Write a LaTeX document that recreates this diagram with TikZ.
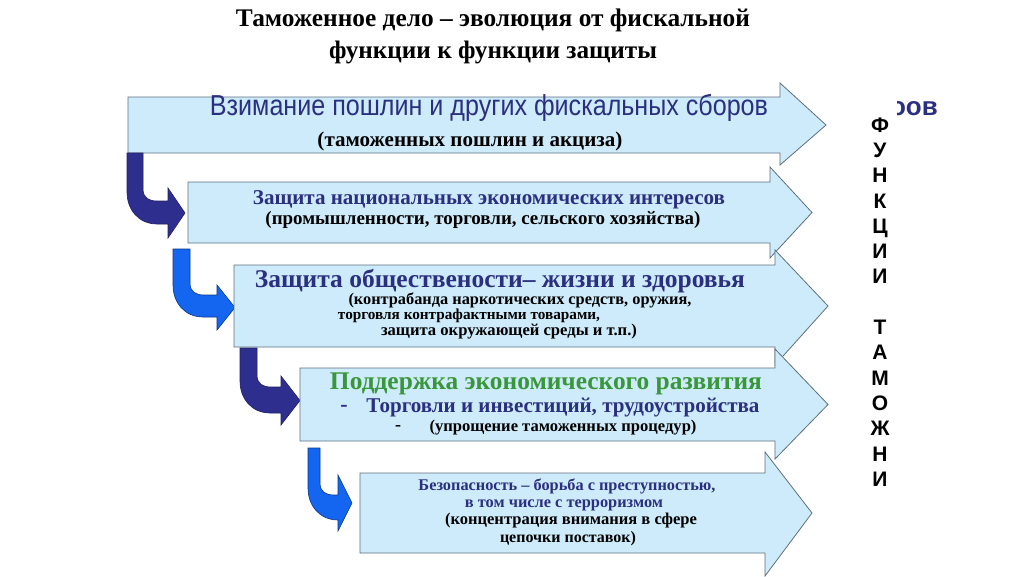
\documentclass[tikz,border=0pt]{standalone}
\usepackage{fontspec}
\usepackage{graphicx}
\setmainfont{Liberation Serif}
\newfontfamily\arialf{Liberation Sans}
\definecolor{boxfill}{HTML}{CDEBFA}
\definecolor{boxline}{HTML}{5F6F7F}
\definecolor{navytext}{HTML}{2B2F7F}
\definecolor{navyarrow}{HTML}{2E2E8E}
\definecolor{bluearrow}{HTML}{1466F0}
\definecolor{greentext}{HTML}{3A963A}
\newcommand\fw[2]{\resizebox{#1pt}{!}{#2}}
% body arrow: x0, ytop, ybot, xhead, headtop, headbot, tipx
\newcommand\bodyarrow[7]{%
  \path[bigarrow] (#1,#2) -- (#4,#2) -- (#4,#5) -- (#7,{(#2+#3)/2}) -- (#4,#6) -- (#4,#3) -- (#1,#3) -- cycle;}
% bent arrow: style, L, R, T, S1, S2, Hb, Ht, Tx  (head bottom in \bentHbm)
\newcommand\bentarrow[9]{%
  \path[#1] (#2,#4) -- (#3,#4) -- (#3,#5-12) .. controls (#3,#5-3) and (#3+6,#5) .. (#3+14,#5)
    -- (#7,#5) -- (#7,#8) -- (#9,{(#8+\bentHbm)/2}) -- (#7,\bentHbm) -- (#7,#6)
    -- (#2+30,#6) .. controls (#2+12,#6) and (#2,#6-14) .. (#2,#6-32) -- cycle;}
\tikzset{
  bigarrow/.style={fill=boxfill, draw=boxline, line width=0.8pt},
  bentnavy/.style={fill=navyarrow, draw=navyarrow!70!black, line width=0.6pt},
  bentblue/.style={fill=bluearrow, draw=bluearrow!55!black, line width=0.6pt},
  txt/.style={inner sep=0pt, anchor=center},
}
\begin{document}
\begin{tikzpicture}[x=1pt,y=-1pt]
\useasboundingbox (0,0) rectangle (1024,576);
\fill[white] (0,0) rectangle (1024,576);

% title
\node[txt] (title1) at (493,20) {\fw{514}{\bfseries Таможенное дело – эволюция от фискальной}};
\node[txt] (title2) at (493,52) {\fw{328}{\bfseries функции к функции защиты}};

% arrow 1
\bodyarrow{128}{97}{153}{780}{83}{165}{826}
\node[txt] (a1a) at (489,108) {\fw{558}{\scalebox{1}[1.15]{\arialf\color{navytext}Взимание пошлин и других фискальных сборов}}};
\node[txt] (a1b) at (470,141) {\fw{305}{\bfseries (таможенных пошлин и акциза)}};

% bent arrow 1
\def\bentHbm{238}
\bentarrow{bentnavy}{127}{143}{153}{201}{224}{168}{188}{185}

% arrow 2
\bodyarrow{188}{182}{243}{770}{167}{258}{812}
\node[txt] (a2a) at (489,200) {\fw{472}{\bfseries\color{navytext}Защита национальных экономических интересов}};
\node[txt] (a2b) at (483,220) {\fw{435}{\bfseries (промышленности, торговли, сельского хозяйства)}};

% bent arrow 2
\def\bentHbm{330}
\bentarrow{bentblue}{173}{190}{249}{295}{317}{217}{285}{235}

% arrow 3
\bodyarrow{234}{265}{347}{775}{250}{365}{828}
\node[txt] (a3a) at (500,281) {\fw{490}{\bfseries\color{navytext}Защита обществености– жизни и здоровья}};
\node[txt] (a3b) at (520,300) {\fw{343}{\bfseries (контрабанда наркотических средств, оружия,}};
\node[txt] (a3c) at (469,316) {\fw{262}{\bfseries торговля контрафактными товарами,}};
\node[txt] (a3d) at (509,332) {\fw{256}{\bfseries защита окружающей среды и т.п.)}};

% bent arrow 3
\def\bentHbm{425}
\bentarrow{bentnavy}{240}{257}{348}{387}{413}{281}{376}{300}

% arrow 4
\bodyarrow{300}{368}{441}{775}{349}{459}{828}
\node[txt] (a4a) at (546,384) {\fw{432}{\bfseries\color{greentext}Поддержка экономического развития}};
\node[txt] (a4d1) at (344,408) {\bfseries\fontsize{22}{22}\selectfont\color{navytext}-};
\node[txt] (a4b) at (563,408) {\fw{393}{\bfseries\color{navytext}Торговли и инвестиций, трудоустройства}};
\node[txt] (a4d2) at (398,428) {\fw{6}{\bfseries -}};
\node[txt] (a4c) at (563,428) {\fw{267}{\bfseries (упрощение таможенных процедур)}};

% bent arrow 4
\def\bentHbm{531}
\bentarrow{bentblue}{308}{320}{448}{495}{520}{338}{475}{352}

% arrow 5
\bodyarrow{360}{473}{553}{765}{452}{576}{812}
\node[txt] (a5a) at (567,486) {\fw{297}{\bfseries\color{navytext}Безопасность – борьба с преступностью,}};
\node[txt] (a5b) at (564,505) {\fw{198}{\bfseries\color{navytext}в том числе с терроризмом}};
\node[txt] (a5c) at (571,521) {\fw{252}{\bfseries (концентрация внимания в сфере}};
\node[txt] (a5d) at (568,539) {\fw{136}{\bfseries цепочки поставок)}};

% clipped fragment
\begin{scope}
\clip (897,90) rectangle (960,135);
\node[txt, anchor=east] (frag) at (938,109) {\arialf\bfseries\fontsize{26}{26}\selectfont\color{navytext}оов};
\end{scope}

% vertical label
\node[txt, align=center, font=\arialf\bfseries\fontsize{21}{25.3}\selectfont] (vert) at (880,302)
  {Ф\\У\\Н\\К\\Ц\\И\\И\\~\\Т\\А\\М\\О\\Ж\\Н\\И};
\end{tikzpicture}
\end{document}
